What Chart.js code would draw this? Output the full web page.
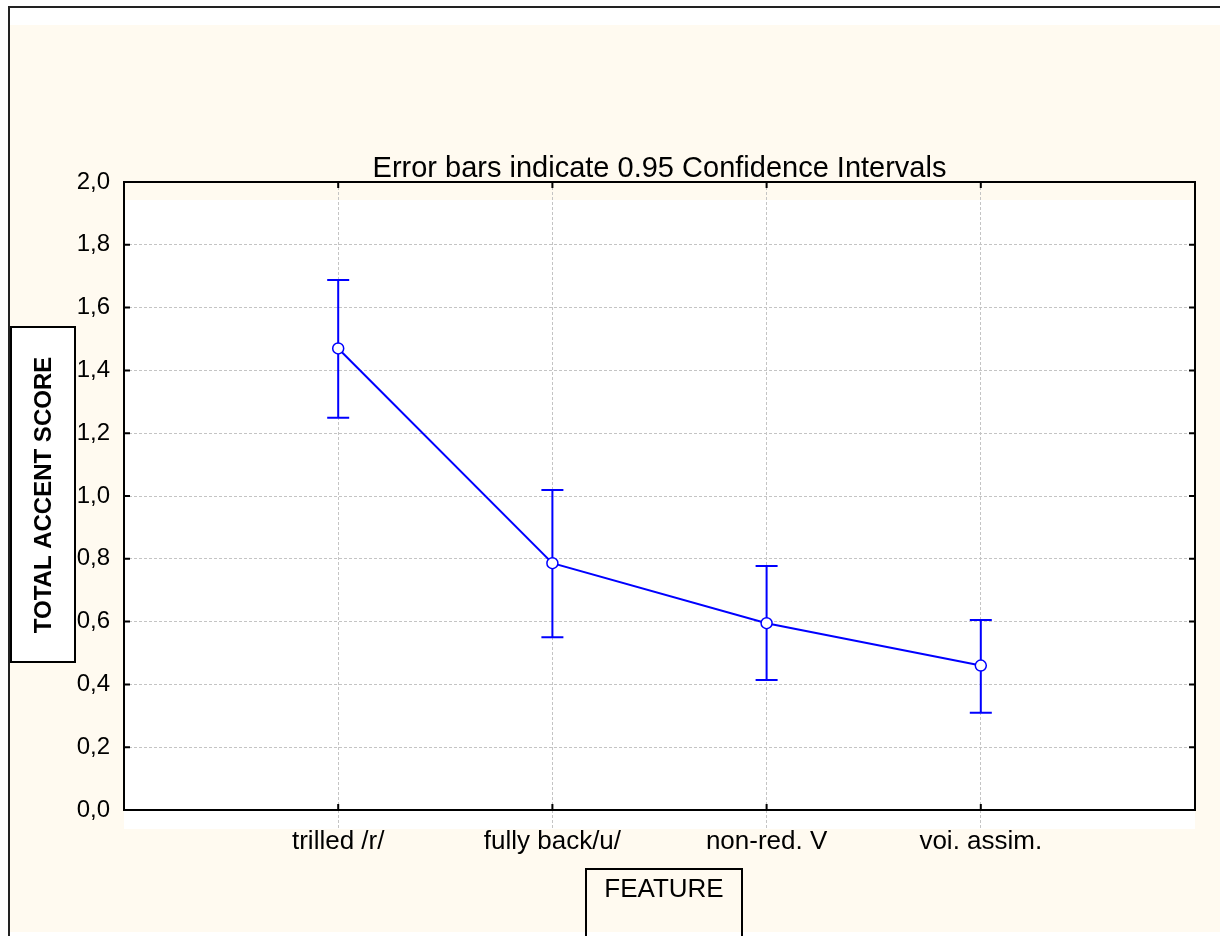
<!DOCTYPE html>
<html>
<head>
<meta charset="utf-8">
<script src="https://cdn.jsdelivr.net/npm/chart.js@4/dist/chart.umd.min.js"></script>
<style>
  html, body { margin: 0; padding: 0; background: #fff; }
  canvas { display: block; }
</style>
</head>
<body>
<canvas id="featureChart" width="1220" height="936"></canvas>
<script>
// categories and values
const categories = ['trilled /r/', 'fully back/u/', 'non-red. V', 'voi. assim.'];
const means = [1.47, 0.786, 0.595, 0.46];
const upperCI = [1.688, 1.019, 0.777, 0.605];
const lowerCI = [1.249, 0.55, 0.414, 0.31];
const yTicks = [0, 0.2, 0.4, 0.6, 0.8, 1.0, 1.2, 1.4, 1.6, 1.8, 2.0];

const FONT = "'Liberation Sans', Arial, sans-serif";
const CREAM = '#FFFAF0';
const BLUE = '#0000FF';
const GRID = '#c4c4c4';

// background: cream page, white plot area shifted down a little like the original
const backgroundPlugin = {
  id: 'background',
  beforeDraw(chart) {
    const { ctx, chartArea: a } = chart;
    ctx.save();
    ctx.fillStyle = '#fff';
    ctx.fillRect(0, 0, chart.width, chart.height);
    ctx.fillStyle = CREAM;
    ctx.fillRect(10, 25, chart.width - 10, chart.height - 29);
    ctx.fillStyle = '#fff';
    ctx.fillRect(a.left, a.top + 18, a.right - a.left, a.bottom - a.top + 1);
    // outer border (left and top)
    ctx.strokeStyle = '#222';
    ctx.lineWidth = 2;
    ctx.beginPath();
    ctx.moveTo(9, chart.height);
    ctx.lineTo(9, 7);
    ctx.lineTo(chart.width, 7);
    ctx.stroke();
    ctx.restore();
  }
};

// error bars (drawn under the line and points)
const errorBarPlugin = {
  id: 'errorBars',
  beforeDatasetsDraw(chart) {
    const { ctx, scales: { x, y } } = chart;
    ctx.save();
    ctx.strokeStyle = BLUE;
    ctx.lineWidth = 2;
    categories.forEach((c, i) => {
      const px = x.getPixelForValue(i + 1);
      const top = y.getPixelForValue(upperCI[i]);
      const bot = y.getPixelForValue(lowerCI[i]);
      ctx.beginPath();
      ctx.moveTo(px, top);
      ctx.lineTo(px, bot);
      ctx.moveTo(px - 11, top);
      ctx.lineTo(px + 11, top);
      ctx.moveTo(px - 11, bot);
      ctx.lineTo(px + 11, bot);
      ctx.stroke();
    });
    ctx.restore();
  }
};

// frame with inward ticks, title, boxed axis titles
const framePlugin = {
  id: 'frame',
  afterDraw(chart) {
    const { ctx, chartArea: a, scales: { x, y } } = chart;
    ctx.save();
    ctx.strokeStyle = '#000';
    ctx.lineWidth = 2;
    ctx.strokeRect(a.left, a.top, a.right - a.left, a.bottom - a.top);
    ctx.beginPath();
    yTicks.forEach(v => {
      const py = y.getPixelForValue(v);
      ctx.moveTo(a.left, py); ctx.lineTo(a.left + 6, py);
      ctx.moveTo(a.right, py); ctx.lineTo(a.right - 6, py);
    });
    categories.forEach((c, i) => {
      const px = x.getPixelForValue(i + 1);
      ctx.moveTo(px, a.bottom); ctx.lineTo(px, a.bottom - 6);
      ctx.moveTo(px, a.top); ctx.lineTo(px, a.top + 6);
    });
    ctx.stroke();

    // chart title
    ctx.fillStyle = '#000';
    ctx.font = '29px ' + FONT;
    ctx.textAlign = 'center';
    ctx.textBaseline = 'alphabetic';
    ctx.fillText('Error bars indicate 0.95 Confidence Intervals', (a.left + a.right) / 2, a.top - 5);

    // y axis title box
    ctx.fillStyle = '#fff';
    ctx.fillRect(11, 327, 64, 335);
    ctx.strokeRect(11, 327, 64, 335);
    ctx.save();
    ctx.translate(44, 495);
    ctx.rotate(-Math.PI / 2);
    ctx.fillStyle = '#000';
    ctx.font = 'bold 24px ' + FONT;
    ctx.textBaseline = 'middle';
    ctx.fillText('TOTAL ACCENT SCORE', 0, 0);
    ctx.restore();

    // x axis title box
    ctx.beginPath();
    ctx.moveTo(586, chart.height);
    ctx.lineTo(586, 869);
    ctx.lineTo(742, 869);
    ctx.lineTo(742, chart.height);
    ctx.stroke();
    ctx.fillStyle = '#000';
    ctx.font = '26px ' + FONT;
    ctx.textBaseline = 'alphabetic';
    ctx.fillText('FEATURE', 664, 897);
    ctx.restore();
  }
};

const ctx = document.getElementById('featureChart').getContext('2d');

const featureChart = new Chart(ctx, {
  type: 'line',
  data: {
    datasets: [{
      label: 'TOTAL ACCENT SCORE',
      data: means.map((m, i) => ({ x: i + 1, y: m })),
      borderColor: BLUE,
      borderWidth: 2,
      pointRadius: 5.5,
      pointBackgroundColor: '#fff',
      pointBorderColor: BLUE,
      pointBorderWidth: 1.5,
      tension: 0,
      fill: false
    }]
  },
  options: {
    responsive: false,
    animation: false,
    layout: { padding: { left: 0, right: 25, top: 182, bottom: 0 } },
    plugins: {
      legend: { display: false },
      tooltip: { enabled: false }
    },
    scales: {
      x: {
        type: 'linear',
        min: 0,
        max: 5,
        afterBuildTicks: scale => {
          scale.ticks = categories.map((c, i) => ({ value: i + 1 }));
        },
        afterFit: scale => { scale.height = 126; },
        ticks: {
          autoSkip: false,
          maxRotation: 0,
          padding: -3,
          color: '#000',
          font: { family: FONT, size: 26 },
          callback: v => categories[v - 1] || ''
        },
        grid: {
          color: GRID,
          lineWidth: 1,
          drawTicks: true,
          tickLength: 19,
          tickColor: GRID,
          tickBorderDash: [3, 2]
        },
        border: { display: false, dash: [3, 2] }
      },
      y: {
        type: 'linear',
        min: 0,
        max: 2,
        afterBuildTicks: scale => {
          scale.ticks = yTicks.map(v => ({ value: v }));
        },
        afterFit: scale => { scale.width = 124; },
        ticks: {
          padding: 14,
          color: '#000',
          font: { family: FONT, size: 24 },
          callback: v => v.toFixed(1).replace('.', ',')
        },
        grid: { color: GRID, lineWidth: 1, drawTicks: false },
        border: { display: false, dash: [3, 2] }
      }
    }
  },
  plugins: [backgroundPlugin, errorBarPlugin, framePlugin]
});
</script>
</body>
</html>
